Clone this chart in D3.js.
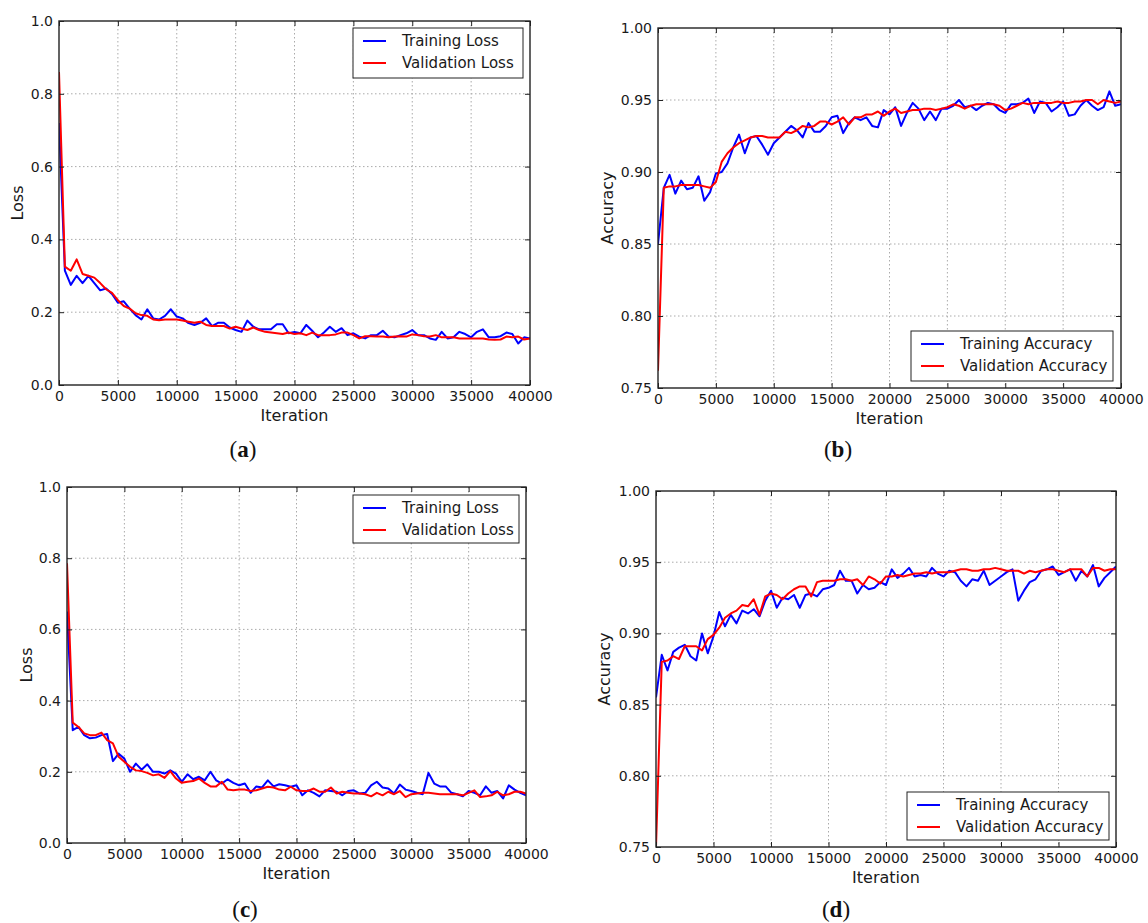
<!DOCTYPE html>
<html>
<head>
<meta charset="utf-8">
<script src="https://cdnjs.cloudflare.com/ajax/libs/d3/7.8.5/d3.min.js"></script>
<style>
  html, body { margin: 0; padding: 0; background: #fff; }
  svg { display: block; }
</style>
</head>
<body>
<svg width="1148" height="923"></svg>
<script>
// iterations sampled every 500 steps
var ITERATIONS = d3.range(0, 40001, 500);
var X_TICKS = [0, 5000, 10000, 15000, 20000, 25000, 30000, 35000, 40000];
var LOSS_TICKS = [0.0, 0.2, 0.4, 0.6, 0.8, 1.0];
var ACC_TICKS = [0.75, 0.80, 0.85, 0.90, 0.95, 1.00];

// (a)
var trainLossA = [
  0.72, 0.314, 0.275, 0.30, 0.28, 0.30, 0.28, 0.26, 0.265, 0.25,
  0.226, 0.23, 0.21, 0.192, 0.18, 0.208, 0.183, 0.18, 0.19, 0.208,
  0.188, 0.183, 0.17, 0.165, 0.171, 0.183, 0.162, 0.171, 0.171, 0.158,
  0.151, 0.146, 0.177, 0.16, 0.153, 0.153, 0.153, 0.167, 0.167, 0.142,
  0.146, 0.142, 0.165, 0.149, 0.131, 0.144, 0.16, 0.146, 0.156, 0.137,
  0.142, 0.133, 0.128, 0.137, 0.137, 0.149, 0.133, 0.131, 0.137, 0.142,
  0.151, 0.137, 0.137, 0.128, 0.124, 0.146, 0.128, 0.131, 0.146, 0.14,
  0.131, 0.146, 0.153, 0.131, 0.131, 0.134, 0.144, 0.14, 0.114, 0.131,
  0.128
];
var valLossA = [
  0.86, 0.325, 0.314, 0.345, 0.305, 0.30, 0.295, 0.28, 0.263, 0.253,
  0.233, 0.217, 0.21, 0.197, 0.192, 0.19, 0.18, 0.178, 0.18, 0.18,
  0.18, 0.177, 0.174, 0.171, 0.174, 0.165, 0.162, 0.162, 0.162, 0.155,
  0.16, 0.155, 0.151, 0.158, 0.151, 0.146, 0.144, 0.142, 0.14, 0.144,
  0.14, 0.142, 0.137, 0.144, 0.137, 0.137, 0.137, 0.139, 0.144, 0.144,
  0.137, 0.128, 0.134, 0.134, 0.133, 0.133, 0.131, 0.133, 0.134, 0.133,
  0.139, 0.137, 0.134, 0.133, 0.137, 0.131, 0.131, 0.131, 0.128, 0.128,
  0.128, 0.128, 0.128, 0.125, 0.124, 0.125, 0.133, 0.131, 0.133, 0.125,
  0.128
];

// (b)
var trainAccB = [
  0.85, 0.889, 0.898, 0.885, 0.894, 0.888, 0.889, 0.897, 0.880, 0.886,
  0.899, 0.900, 0.906, 0.917, 0.926, 0.913, 0.924, 0.925, 0.919, 0.912,
  0.920, 0.924, 0.928, 0.932, 0.929, 0.924, 0.934, 0.928, 0.928, 0.932,
  0.938, 0.939, 0.927, 0.934, 0.938, 0.936, 0.938, 0.932, 0.931, 0.943,
  0.940, 0.945, 0.932, 0.941, 0.948, 0.944, 0.936, 0.942, 0.936, 0.944,
  0.944, 0.946, 0.950, 0.945, 0.946, 0.943, 0.946, 0.948, 0.947, 0.943,
  0.941, 0.947, 0.947, 0.948, 0.951, 0.941, 0.949, 0.948, 0.942, 0.945,
  0.949, 0.939, 0.940, 0.946, 0.950, 0.946, 0.943, 0.945, 0.956, 0.946,
  0.947
];
var valAccB = [
  0.762, 0.889, 0.890, 0.890, 0.891, 0.891, 0.891, 0.891, 0.890, 0.889,
  0.893, 0.907, 0.913, 0.917, 0.920, 0.922, 0.924, 0.925, 0.925, 0.924,
  0.924, 0.924, 0.928, 0.927, 0.929, 0.932, 0.931, 0.932, 0.935, 0.935,
  0.933, 0.935, 0.938, 0.933, 0.938, 0.938, 0.940, 0.940, 0.942, 0.939,
  0.942, 0.944, 0.941, 0.942, 0.943, 0.943, 0.944, 0.944, 0.943, 0.944,
  0.945, 0.947, 0.946, 0.944, 0.946, 0.947, 0.947, 0.947, 0.947, 0.946,
  0.943, 0.944, 0.946, 0.948, 0.947, 0.948, 0.948, 0.948, 0.948, 0.949,
  0.948, 0.948, 0.949, 0.949, 0.950, 0.950, 0.947, 0.950, 0.949, 0.948,
  0.949
];

// (c)
var trainLossC = [
  0.65, 0.317, 0.326, 0.303, 0.294, 0.296, 0.303, 0.306, 0.23, 0.251,
  0.237, 0.20, 0.223, 0.206, 0.221, 0.20, 0.20, 0.195, 0.204, 0.195,
  0.172, 0.193, 0.179, 0.186, 0.176, 0.20, 0.176, 0.167, 0.179, 0.169,
  0.162, 0.167, 0.141, 0.159, 0.156, 0.176, 0.159, 0.165, 0.162, 0.158,
  0.162, 0.134, 0.148, 0.141, 0.131, 0.148, 0.146, 0.144, 0.134, 0.146,
  0.148, 0.139, 0.141, 0.162, 0.172, 0.156, 0.153, 0.139, 0.164, 0.15,
  0.146, 0.141, 0.137, 0.197, 0.167, 0.159, 0.159, 0.141, 0.137, 0.131,
  0.146, 0.141, 0.134, 0.159, 0.141, 0.146, 0.125, 0.162, 0.15, 0.141,
  0.134
];
var valLossC = [
  0.786, 0.338, 0.326, 0.308, 0.303, 0.303, 0.31, 0.289, 0.28, 0.242,
  0.228, 0.214, 0.204, 0.202, 0.197, 0.19, 0.193, 0.183, 0.202, 0.181,
  0.169, 0.172, 0.174, 0.181, 0.169, 0.159, 0.159, 0.172, 0.15, 0.148,
  0.15, 0.15, 0.146, 0.148, 0.153, 0.158, 0.156, 0.15, 0.148, 0.158,
  0.148, 0.146, 0.146, 0.153, 0.144, 0.144, 0.156, 0.139, 0.144, 0.141,
  0.139, 0.139, 0.137, 0.131, 0.141, 0.134, 0.144, 0.137, 0.146, 0.129,
  0.137, 0.139, 0.141, 0.141, 0.139, 0.137, 0.137, 0.137, 0.137, 0.134,
  0.141, 0.148, 0.129, 0.131, 0.134, 0.144, 0.134, 0.137, 0.144, 0.144,
  0.139
];

// (d)
var trainAccD = [
  0.855, 0.885, 0.874, 0.887, 0.890, 0.892, 0.884, 0.881, 0.900, 0.886,
  0.898, 0.915, 0.905, 0.913, 0.907, 0.916, 0.914, 0.917, 0.912, 0.923,
  0.930, 0.918, 0.925, 0.924, 0.927, 0.918, 0.927, 0.928, 0.926, 0.931,
  0.932, 0.934, 0.944, 0.937, 0.937, 0.928, 0.934, 0.931, 0.932, 0.936,
  0.934, 0.945, 0.939, 0.942, 0.946, 0.940, 0.941, 0.940, 0.946, 0.942,
  0.940, 0.944, 0.943, 0.937, 0.933, 0.938, 0.937, 0.944, 0.934, 0.937,
  0.940, 0.943, 0.945, 0.923, 0.930, 0.936, 0.938, 0.944, 0.945, 0.947,
  0.941, 0.943, 0.945, 0.937, 0.944, 0.940, 0.948, 0.933, 0.939, 0.943,
  0.947
];
var valAccD = [
  0.75, 0.880, 0.881, 0.884, 0.882, 0.891, 0.891, 0.891, 0.888, 0.896,
  0.899, 0.904, 0.911, 0.914, 0.916, 0.920, 0.919, 0.924, 0.913, 0.926,
  0.928, 0.927, 0.924, 0.928, 0.931, 0.933, 0.933, 0.926, 0.936, 0.937,
  0.937, 0.937, 0.938, 0.938, 0.937, 0.938, 0.934, 0.940, 0.938, 0.935,
  0.940, 0.940, 0.941, 0.940, 0.941, 0.942, 0.942, 0.943, 0.942, 0.943,
  0.943, 0.943, 0.944, 0.945, 0.945, 0.944, 0.944, 0.945, 0.945, 0.946,
  0.945, 0.944, 0.944, 0.944, 0.942, 0.944, 0.943, 0.944, 0.945, 0.945,
  0.944, 0.943, 0.945, 0.945, 0.945, 0.940, 0.946, 0.946, 0.944, 0.945,
  0.945
];

var BLUE = '#0000ff';
var RED = '#ff0000';
var SANS = 'DejaVu Sans, Verdana, sans-serif';
var SERIF = 'Liberation Serif, Times New Roman, serif';

var panels = [
  { id: 'a', box: [59, 21, 530, 385], y: [0, 1], ticks: LOSS_TICKS, fmt: '.1f', ylabel: 'Loss',
    train: trainLossA, val: valLossA, names: ['Training Loss', 'Validation Loss'],
    legend: [353, 28, 170, 50], ylabelX: 18, letterPos: [243, 452] },
  { id: 'b', box: [658, 28, 1121, 388], y: [0.75, 1], ticks: ACC_TICKS, fmt: '.2f', ylabel: 'Accuracy',
    train: trainAccB, val: valAccB, names: ['Training Accuracy', 'Validation Accuracy'],
    legend: [911, 331, 202, 50], ylabelX: 608, letterPos: [838, 452] },
  { id: 'c', box: [67, 487, 526, 843], y: [0, 1], ticks: LOSS_TICKS, fmt: '.1f', ylabel: 'Loss',
    train: trainLossC, val: valLossC, names: ['Training Loss', 'Validation Loss'],
    legend: [353, 495, 166, 48], ylabelX: 27, letterPos: [245, 912] },
  { id: 'd', box: [656, 491, 1116, 847], y: [0.75, 1], ticks: ACC_TICKS, fmt: '.2f', ylabel: 'Accuracy',
    train: trainAccD, val: valAccD, names: ['Training Accuracy', 'Validation Accuracy'],
    legend: [907, 792, 202, 48], ylabelX: 605, letterPos: [836, 912] }
];

var svg = d3.select('svg');

function drawPanel (p) {
  var left = p.box[0], top = p.box[1], right = p.box[2], bottom = p.box[3];
  var x = d3.scaleLinear().domain([0, 40000]).range([left, right]);
  var y = d3.scaleLinear().domain(p.y).range([bottom, top]);
  var g = svg.append('g').attr('class', 'panel-' + p.id);

  // dotted grid
  g.append('g').selectAll('line.gx')
    .data(X_TICKS.slice(1, -1)).enter().append('line')
    .attr('x1', function (d) { return x(d); })
    .attr('x2', function (d) { return x(d); })
    .attr('y1', top).attr('y2', bottom)
    .attr('stroke', '#aaa').attr('stroke-width', 1).attr('stroke-dasharray', '1.5,2.5');
  g.append('g').selectAll('line.gy')
    .data(p.ticks.slice(1, -1)).enter().append('line')
    .attr('y1', function (d) { return y(d); })
    .attr('y2', function (d) { return y(d); })
    .attr('x1', left).attr('x2', right)
    .attr('stroke', '#aaa').attr('stroke-width', 1).attr('stroke-dasharray', '1.5,2.5');

  // clip lines to the frame
  svg.append('clipPath').attr('id', 'clip-' + p.id)
    .append('rect').attr('x', left).attr('y', top)
    .attr('width', right - left).attr('height', bottom - top);

  var line = d3.line()
    .x(function (d, i) { return x(ITERATIONS[i]); })
    .y(function (d) { return y(d); });

  var lines = g.append('g').attr('clip-path', 'url(#clip-' + p.id + ')');
  lines.append('path').datum(p.train)
    .attr('d', line).attr('fill', 'none')
    .attr('stroke', BLUE).attr('stroke-width', 2).attr('stroke-linejoin', 'round');
  lines.append('path').datum(p.val)
    .attr('d', line).attr('fill', 'none')
    .attr('stroke', RED).attr('stroke-width', 2).attr('stroke-linejoin', 'round');

  // axes, ticks pointing inward
  var bottomAxis = g.append('g').attr('transform', 'translate(0,' + bottom + ')')
    .call(d3.axisBottom(x).tickValues(X_TICKS).tickSize(-5).tickPadding(6).tickFormat(d3.format('d')));
  var leftAxis = g.append('g').attr('transform', 'translate(' + left + ',0)')
    .call(d3.axisLeft(y).tickValues(p.ticks).tickSize(-5).tickPadding(6).tickFormat(d3.format(p.fmt)));
  g.append('g').attr('transform', 'translate(0,' + top + ')')
    .call(d3.axisTop(x).tickValues(X_TICKS).tickSize(-5).tickFormat(''));
  g.append('g').attr('transform', 'translate(' + right + ',0)')
    .call(d3.axisRight(y).tickValues(p.ticks).tickSize(-5).tickFormat(''));

  g.selectAll('.domain').remove();
  g.selectAll('.tick line').attr('stroke', '#222').attr('stroke-width', 1);
  [bottomAxis, leftAxis].forEach(function (a) {
    a.selectAll('text').attr('font-family', SANS).attr('font-size', 14).attr('fill', '#1a1a1a');
  });

  // frame
  g.append('rect')
    .attr('x', left).attr('y', top)
    .attr('width', right - left).attr('height', bottom - top)
    .attr('fill', 'none').attr('stroke', '#222').attr('stroke-width', 1.4);

  // axis labels
  g.append('text')
    .attr('x', (left + right) / 2).attr('y', bottom + 31)
    .attr('text-anchor', 'middle').attr('dominant-baseline', 'middle')
    .attr('font-family', SANS).attr('font-size', 16).attr('fill', '#1a1a1a')
    .text('Iteration');
  g.append('text')
    .attr('transform', 'translate(' + p.ylabelX + ',' + (top + bottom) / 2 + ') rotate(-90)')
    .attr('text-anchor', 'middle').attr('dominant-baseline', 'middle')
    .attr('font-family', SANS).attr('font-size', 16).attr('fill', '#1a1a1a')
    .text(p.ylabel);

  // legend
  var lx = p.legend[0], ly = p.legend[1], lw = p.legend[2], lh = p.legend[3];
  var leg = g.append('g');
  leg.append('rect')
    .attr('x', lx).attr('y', ly).attr('width', lw).attr('height', lh)
    .attr('fill', '#fff').attr('stroke', '#222').attr('stroke-width', 1);
  [[p.names[0], BLUE], [p.names[1], RED]].forEach(function (item, i) {
    var ry = ly + 13 + i * 22;
    leg.append('line')
      .attr('x1', lx + 10).attr('x2', lx + 33)
      .attr('y1', ry).attr('y2', ry)
      .attr('stroke', item[1]).attr('stroke-width', 2);
    leg.append('text')
      .attr('x', lx + 49).attr('y', ry)
      .attr('dominant-baseline', 'middle')
      .attr('font-family', SANS).attr('font-size', 15).attr('fill', '#1a1a1a')
      .text(item[0]);
  });

  // sub-figure letter
  var lab = g.append('text')
    .attr('x', p.letterPos[0]).attr('y', p.letterPos[1])
    .attr('text-anchor', 'middle').attr('dominant-baseline', 'middle')
    .attr('font-family', SERIF).attr('font-size', 23).attr('fill', '#111');
  lab.append('tspan').text('(');
  lab.append('tspan').attr('font-weight', 'bold').text(p.id);
  lab.append('tspan').text(')');
}

panels.forEach(drawPanel);
</script>
</body>
</html>
